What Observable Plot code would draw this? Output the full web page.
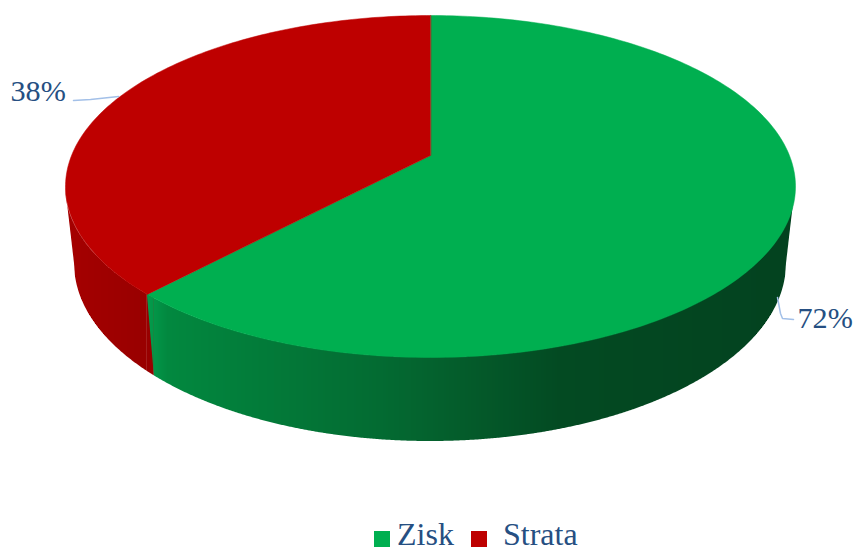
<!DOCTYPE html>
<html><head><meta charset="utf-8">
<script src="https://cdn.jsdelivr.net/npm/d3@7"></script>
<script src="https://cdn.jsdelivr.net/npm/@observablehq/plot@0.6"></script>
<style>
html,body{margin:0;padding:0;background:#fff;overflow:hidden}
#chart svg{display:block}
#legend{height:32px;position:relative;font:32px/32px "Liberation Serif",serif;color:#264f82}
#legend span{position:absolute;top:-2px}
#legend i{position:absolute;top:11px;width:16px;height:16px}
</style></head><body>
<div id="chart"></div>
<div id="legend"></div>
<script>
// Data
const categories = ["Zisk", "Strata"];
const shares = [62, 38];              // slice sweep as drawn
const labels = ["72%", "38%"];        // printed labels
const topColors = ["#00AF50", "#BE0000"];
// Side-wall shading
const greenShadeX = [-283, -262, -50, 0, 130, 365];
const greenShade = ["#039c4c", "#02883f", "#036b32", "#04622e", "#034a22", "#03421f"];
const redShadeX = [-365, -280];
const redShade = ["#a50000", "#980000"];
// Tilted-disc projection
const topFace = {rx: 365, ry: 171, cy: 0};
const bottomFace = {rx: 356, ry: 178, cy: 77};
const k = -31 / 171;

function project(deg, f) {
  const t = deg * Math.PI / 180, u = Math.sin(t), v = -Math.cos(t), d = 1 + k * v;
  return {
    x: f.rx * Math.sqrt(1 - k * k) * u / d,
    y: f.cy + (f.ry * v + f.ry * k) / d
  };
}
const total = d3.sum(shares);
const sweep = shares.map(s => s / total * 360);
const boundaries = [0, sweep[0], 360];

// Top face polygons
const faces = categories.map((c, i) => {
  const pts = [{x: 0, y: topFace.ry * k, id: c, color: topColors[i]}];
  for (let a = boundaries[i]; ; a = Math.min(a + 1, boundaries[i + 1])) {
    pts.push({...project(a, topFace), id: c, color: topColors[i]});
    if (a >= boundaries[i + 1]) break;
  }
  return pts;
}).flat();

// Side wall: vertical columns between the top rim and the bottom rim
const greenScale = d3.scaleLinear(greenShadeX, greenShade).clamp(true);
const redScale = d3.scaleLinear(redShadeX, redShade).clamp(true);
const ellipseLow = (x, f) => f.cy + f.ry * Math.sqrt(Math.max(0, 1 - (x / f.rx) ** 2));
const upper = x => ellipseLow(x, topFace);
const lower = x => {
  const ax = Math.abs(x);
  if (ax <= bottomFace.rx) return ellipseLow(x, bottomFace);
  return d3.scaleLinear([topFace.rx, bottomFace.rx], [topFace.cy, bottomFace.cy])(ax);
};
const P = project(sweep[0], topFace), Q = project(sweep[0], bottomFace);
const edgeY = d3.scaleLinear([P.x, Q.x], [P.y, Q.y]);
const xs = [...new Set([...d3.range(-topFace.rx, topFace.rx + 1), P.x, Q.x])].sort((a, b) => a - b);
const columns = [];
let cid = 0;
for (let i = 0; i < xs.length - 1; i++) {
  const x0 = xs[i], x1 = xs[i + 1], mid = (x0 + x1) / 2;
  const add = (y1f, y2f, color) => {
    cid++;
    columns.push({x: x0, y1: y1f(x0), y2: y2f(x0), id: cid, color});
    columns.push({x: x1, y1: y1f(x1), y2: y2f(x1), id: cid, color});
  };
  if (mid < P.x) add(upper, lower, redScale(mid));
  else if (mid > Q.x) add(upper, lower, greenScale(mid));
  else {
    add(upper, lower, redScale(mid));
    add(upper, edgeY, greenScale(mid));
  }
}

const labelRows = [
  {label: labels[0], x: 367, y: 141},
  {label: labels[1], x: -420, y: -86}
];
const leaders = [
  {id: "a", x: 347, y: 111}, {id: "a", x: 350, y: 127}, {id: "a", x: 352, y: 132}, {id: "a", x: 363, y: 133},
  {id: "b", x: -357, y: -86}, {id: "b", x: -340, y: -87}, {id: "b", x: -312, y: -90}
];

const plot = Plot.plot({
  width: 855, height: 520,
  margin: 0,
  x: {domain: [-430, 425], range: [0, 855], axis: null},
  y: {domain: [-186, 334], range: [0, 520], axis: null},
  marks: [
    Plot.area(columns, {x1: "x", y1: "y1", y2: "y2", z: "id", fill: "color"}),
    Plot.line(faces, {x: "x", y: "y", z: "id", fill: "color", stroke: "color", strokeWidth: 0.5, curve: "linear-closed"}),
    Plot.line(leaders, {x: "x", y: "y", z: "id", stroke: "#a3c0e8", strokeWidth: 1.5, curve: "linear"}),
    Plot.text(labelRows, {x: "x", y: "y", text: "label", textAnchor: "start", lineAnchor: "bottom",
      fontFamily: "Liberation Serif", fontSize: 30.2, fill: "#264f82"})
  ]
});
document.getElementById("chart").append(plot);

const legendPos = [
  {swatch: 374, text: 397},
  {swatch: 471, text: 503}
];
const legend = document.getElementById("legend");
categories.forEach((c, i) => {
  const sw = document.createElement("i");
  sw.style.left = legendPos[i].swatch + "px";
  sw.style.background = topColors[i];
  const tx = document.createElement("span");
  tx.style.left = legendPos[i].text + "px";
  tx.textContent = c;
  legend.append(sw, tx);
});
</script>
</body></html>
